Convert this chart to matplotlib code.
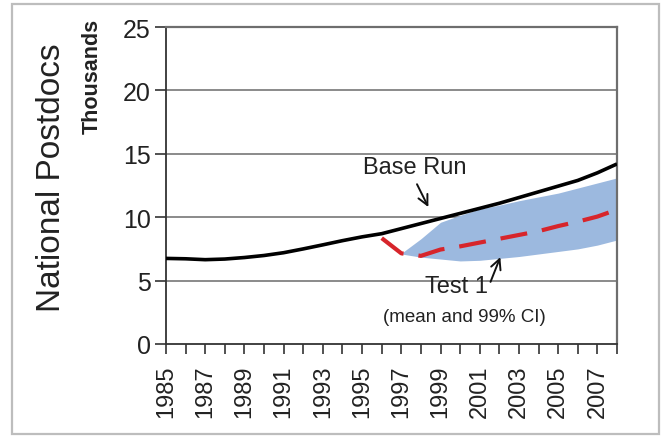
import matplotlib
matplotlib.use("Agg")
import matplotlib.pyplot as plt
from matplotlib.patches import Rectangle
import numpy as np

plt.rcParams['font.family'] = ['Liberation Sans', 'DejaVu Sans']

years = list(range(1985, 2009))
base_run = [6.75, 6.72, 6.65, 6.70, 6.82, 6.98, 7.20, 7.50, 7.82, 8.15, 8.45, 8.70,
            9.10, 9.50, 9.90, 10.30, 10.70, 11.10, 11.55, 12.00, 12.45, 12.90, 13.50, 14.20]

mean_years = list(range(1996, 2009))
test1_mean = [8.35, 7.15, 6.95, 7.45, 7.70, 8.00, 8.30, 8.60, 8.90, 9.30, 9.65, 10.05, 10.60]

ci_years = list(range(1997, 2009))
ci_upper = [7.15, 8.30, 9.60, 10.15, 10.65, 10.95, 11.30, 11.60, 11.90, 12.30, 12.70, 13.10]
ci_lower = [7.10, 6.85, 6.70, 6.55, 6.60, 6.75, 6.90, 7.10, 7.30, 7.50, 7.80, 8.20]

y_ticks = [0, 5, 10, 15, 20, 25]
x_label_years = list(range(1985, 2009, 2))

W, H = 665, 439
fig = plt.figure(figsize=(W / 100, H / 100), dpi=100)
ax = fig.add_axes([166 / W, 1 - 345 / H, (617 - 166) / W, (345 - 28) / H])

# outer frame
fig.patches.append(Rectangle((12 / W, 1 - 435 / H), (659 - 12) / W, (435 - 5) / H,
                             transform=fig.transFigure, fill=False,
                             edgecolor='#bdbdbd', linewidth=1.6))

ax.fill_between(ci_years, ci_lower, ci_upper, color='#9cb9df', linewidth=0, zorder=2)
ax.plot(years, base_run, color='black', linewidth=2.6, zorder=4, solid_capstyle='butt')
ax.plot(mean_years, test1_mean, color='#d7252b', linewidth=3.0, zorder=3,
        dashes=(6.5, 3.6), dash_capstyle='butt')

ax.set_xlim(1985, 2008)
ax.set_ylim(0, 25)
ax.set_yticks(y_ticks)
ax.set_yticklabels([str(v) for v in y_ticks], fontsize=18)
ax.set_xticks(x_label_years)
ax.set_xticklabels([str(v) for v in x_label_years], rotation=90, fontsize=17)
ax.set_xticks(years, minor=True)
ax.tick_params(axis='x', which='both', direction='out', length=7, width=1.2,
               color='#333333', pad=8)
ax.tick_params(axis='y', which='both', direction='out', length=8, width=1.2,
               color='#333333', pad=3)
ax.tick_params(axis='both', labelcolor='#222222')

for v in y_ticks[1:-1]:
    ax.axhline(v, color='#8a8a8a', linewidth=1.4, zorder=1)

ax.spines['left'].set_color('#333333')
ax.spines['bottom'].set_color('#333333')
ax.spines['left'].set_linewidth(1.3)
ax.spines['bottom'].set_linewidth(1.3)
ax.spines['top'].set_color('#6e6e6e')
ax.spines['right'].set_color('#6e6e6e')
ax.spines['top'].set_linewidth(1.6)
ax.spines['right'].set_linewidth(1.6)

fig.text(52 / W, 1 - 178 / H, 'National Postdocs', rotation=90, fontsize=24,
         ha='center', va='center', color='#222222')
fig.text(92 / W, 1 - 76 / H, 'Thousands', rotation=90, fontsize=15.5, fontweight='bold',
         ha='center', va='center', color='#222222')

arrow_props = dict(arrowstyle='->, head_length=0.6, head_width=0.3', color='#111111',
                   lw=1.4, mutation_scale=12, shrinkA=0, shrinkB=0)

ax.text(1997.7, 13.95, 'Base Run', fontsize=17, ha='center', va='center', color='#222222')
ax.annotate('', xy=(1998.38, 10.8), xytext=(1997.8, 12.6),
            arrowprops=arrow_props, zorder=5)
ax.text(1999.8, 4.55, 'Test 1', fontsize=17, ha='center', va='center', color='#222222')
ax.text(2000.2, 2.2, '(mean and 99% CI)', fontsize=13.5, ha='center', va='center',
        color='#222222')
ax.annotate('', xy=(2002.05, 6.85), xytext=(2001.55, 4.9),
            arrowprops=arrow_props, zorder=5)

fig.savefig('out.png', dpi=100)
